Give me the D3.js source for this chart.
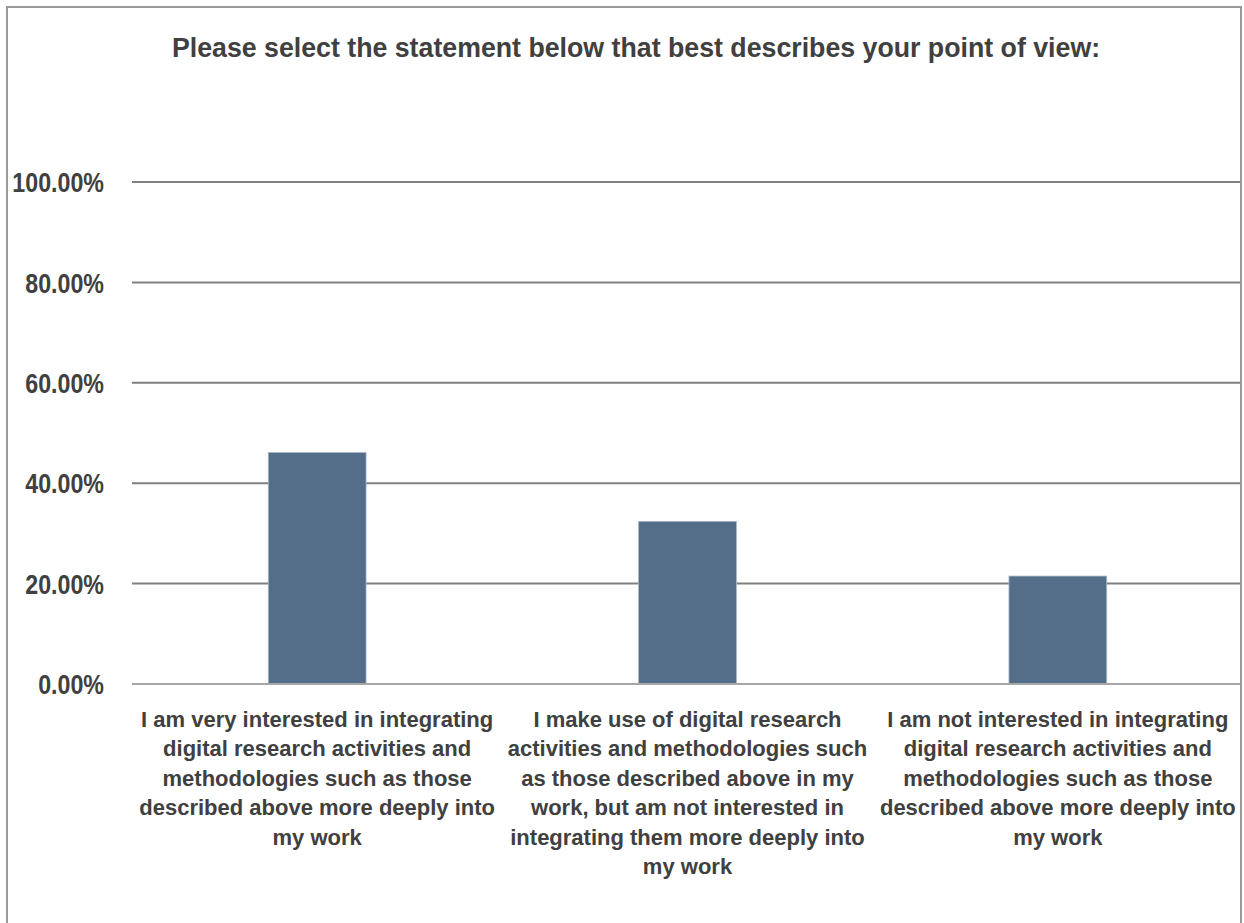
<!DOCTYPE html>
<html>
<head>
<meta charset="utf-8">
<script src="https://cdn.jsdelivr.net/npm/d3@7"></script>
<style>
  html, body { margin: 0; padding: 0; background: #fff; }
  svg text { font-family: "Liberation Sans", Arial, sans-serif; font-weight: bold; fill: #404040; }
</style>
</head>
<body>
<svg id="chart" width="1244" height="923"></svg>
<script>
// Survey responses (share of respondents)
const categories = [
  "I am very interested in integrating digital research activities and methodologies such as those described above more deeply into my work",
  "I make use of digital research activities and methodologies such as those described above in my work, but am not interested in integrating them more deeply into my work",
  "I am not interested in integrating digital research activities and methodologies such as those described above more deeply into my work"
];
const categoryLines = [
  ["I am very interested in integrating", "digital research activities and", "methodologies such as those", "described above more deeply into", "my work"],
  ["I make use of digital research", "activities and methodologies such", "as those described above in my", "work, but am not interested in", "integrating them more deeply into", "my work"],
  ["I am not interested in integrating", "digital research activities and", "methodologies such as those", "described above more deeply into", "my work"]
];
const values = [46.1, 32.4, 21.5];
const yTicks = [0, 20, 40, 60, 80, 100];
const title = "Please select the statement below that best describes your point of view:";

const svg = d3.select("#chart");
const W = 1244, H = 923;
const plot = { left: 132, right: 1243, top: 182, bottom: 684 };

// Outer frame (open at the bottom)
svg.append("path")
  .attr("d", `M7,${H + 2} V7 H1241 V${H + 2}`)
  .attr("fill", "none")
  .attr("stroke", "#9a9a9a")
  .attr("stroke-width", 2);

const x = d3.scaleBand()
  .domain(d3.range(categories.length))
  .range([plot.left, plot.right])
  .paddingInner(0.736)
  .paddingOuter(0.368);

const y = d3.scaleLinear()
  .domain([0, 100])
  .range([plot.bottom, plot.top]);

// Title (slightly condensed)
svg.append("text")
  .attr("transform", "translate(636,57) scale(0.955,1)")
  .attr("text-anchor", "middle")
  .style("font-size", "28px")
  .text(title);

// Gridlines
const clipW = 1240;
svg.append("g")
  .selectAll("line")
  .data(yTicks.filter(d => d > 0))
  .join("line")
  .attr("x1", plot.left)
  .attr("x2", clipW)
  .attr("y1", d => y(d))
  .attr("y2", d => y(d))
  .attr("stroke", "#808080")
  .attr("stroke-width", 2);

// Y axis labels (condensed horizontally)
const yAxis = d3.axisLeft(y)
  .tickValues(yTicks)
  .tickSize(0)
  .tickPadding(0)
  .tickFormat(d => d3.format(".2f")(d) + "%");
const gy = svg.append("g")
  .attr("transform", `translate(104,0) scale(0.86,1)`)
  .call(yAxis);
gy.select(".domain").remove();
gy.selectAll("text")
  .attr("fill", "#404040")
  .style("font-size", "27px")
  .attr("dy", "0.36em");

// Bars
svg.append("g")
  .selectAll("rect")
  .data(values)
  .join("rect")
  .attr("x", (d, i) => x(i))
  .attr("width", x.bandwidth())
  .attr("y", d => y(d))
  .attr("height", d => y(0) - y(d))
  .attr("fill", "#546e8a")
  .attr("stroke", "#a9b7c6")
  .attr("stroke-width", 0.8);

// Baseline
svg.append("line")
  .attr("x1", plot.left)
  .attr("x2", clipW)
  .attr("y1", y(0))
  .attr("y2", y(0))
  .attr("stroke", "#a6a6a6")
  .attr("stroke-width", 2);

// Category labels
const gx = svg.append("g");
categoryLines.forEach((lines, i) => {
  const t = gx.append("text")
    .attr("text-anchor", "middle")
    .style("font-size", "22px");
  t.selectAll("tspan")
    .data(lines)
    .join("tspan")
    .attr("x", x(i) + x.bandwidth() / 2)
    .attr("y", (d, j) => 727 + j * 29.4)
    .text(d => d);
});
</script>
</body>
</html>
